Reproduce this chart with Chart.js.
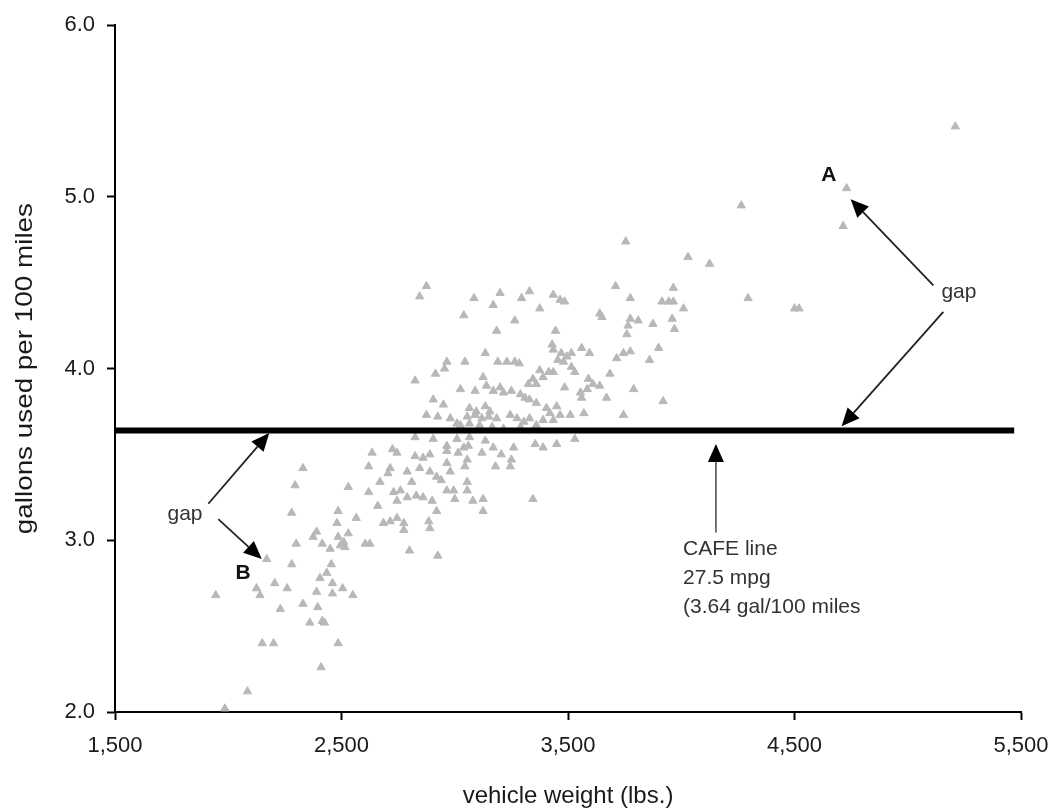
<!DOCTYPE html>
<html>
<head>
<meta charset="utf-8">
<script src="https://cdn.jsdelivr.net/npm/chart.js@4.4.1/dist/chart.umd.min.js"></script>
<style>
  html, body { margin: 0; padding: 0; background: #fff; }
  #wrap { width: 1050px; height: 810px; position: relative; }
</style>
</head>
<body>
<div id="wrap"><canvas id="chart"></canvas></div>
<script>
// vehicle weight (lbs.) vs gallons used per 100 miles
const vehicles = [
  // light cars, lower left
  [2295,3.32],[2280,3.16],[2300,2.98],[2170,2.89],[2280,2.86],[2435,2.81],[2405,2.78],[2460,2.75],
  [2205,2.75],[2125,2.72],[2140,2.68],[2260,2.72],[2390,2.70],[2505,2.72],[2550,2.68],[2460,2.69],
  [1945,2.68],[2330,2.63],[2395,2.61],[2230,2.60],[2360,2.52],[2415,2.53],[2425,2.52],[2150,2.40],
  [2200,2.40],[2485,2.40],[2410,2.26],[2085,2.12],[1985,2.02],
  // below the CAFE line, 2,300 - 2,950 lbs
  [2825,3.60],[2905,3.59],[2725,3.53],[2745,3.51],[2635,3.51],[2825,3.49],[2860,3.48],[2890,3.50],
  [2330,3.42],[2620,3.43],[2715,3.42],[2705,3.39],[2790,3.40],[2845,3.42],[2890,3.40],[2920,3.37],
  [2670,3.34],[2810,3.34],[2530,3.31],[2620,3.28],[2730,3.28],[2760,3.29],[2790,3.25],[2830,3.26],
  [2860,3.25],[2900,3.23],[2660,3.20],[2745,3.23],[2920,3.17],[2485,3.17],[2565,3.13],[2480,3.10],
  [2685,3.10],[2715,3.11],[2745,3.13],[2775,3.10],[2775,3.06],[2885,3.11],[2890,3.07],[2390,3.05],
  [2375,3.02],[2485,3.02],[2530,3.04],[2495,2.97],[2515,2.96],[2510,2.99],[2605,2.98],[2625,2.98],
  [2415,2.98],[2450,2.95],[2800,2.94],[2925,2.91],[2455,2.86],
  // below the CAFE line, 2,950 - 3,550 lbs
  [2965,3.55],[2965,3.52],[3015,3.51],[3040,3.54],[3060,3.55],[3120,3.51],[3170,3.54],[3205,3.50],
  [3260,3.54],[3355,3.56],[3390,3.54],[3450,3.56],[3530,3.59],[2965,3.45],[2980,3.40],[3055,3.47],
  [3045,3.43],[3180,3.43],[3250,3.47],[3245,3.43],[2940,3.35],[3055,3.34],[3055,3.29],[2965,3.29],
  [2995,3.29],[3000,3.24],[3080,3.23],[3125,3.24],[3125,3.17],[3345,3.24],[3010,3.59],[3065,3.60],
  [3135,3.58],
  // above the CAFE line, up to 3,200 lbs
  [2875,4.48],[2845,4.42],[3085,4.41],[3200,4.44],[3170,4.37],[3040,4.31],[3185,4.22],[3135,4.09],
  [2965,4.04],[2955,4.00],[2915,3.97],[3045,4.04],[3190,4.04],[2825,3.93],[3125,3.95],[3025,3.88],
  [3090,3.87],[3140,3.90],[3170,3.87],[3200,3.89],[2905,3.82],[2950,3.79],[3065,3.77],[3095,3.75],
  [3135,3.78],[3155,3.75],[2875,3.73],[2925,3.72],[2980,3.71],[3010,3.68],[3055,3.72],[3090,3.73],
  [3120,3.71],[3150,3.72],[3185,3.71],[3025,3.67],[3065,3.68],[3110,3.67],[3165,3.66],
  // above the CAFE line, 3,200 - 3,770 lbs
  [3330,4.45],[3295,4.41],[3435,4.43],[3465,4.40],[3485,4.39],[3375,4.35],[3710,4.48],[3640,4.32],
  [3650,4.30],[3265,4.28],[3445,4.22],[3765,4.25],[3430,4.14],[3435,4.11],[3560,4.12],[3595,4.09],
  [3470,4.09],[3495,4.07],[3515,4.09],[3455,4.05],[3480,4.04],[3230,4.04],[3265,4.04],[3285,4.03],
  [3515,4.01],[3530,3.98],[3715,4.06],[3745,4.09],[3435,3.98],[3415,3.98],[3390,3.95],[3345,3.94],
  [3325,3.91],[3360,3.91],[3590,3.94],[3610,3.91],[3640,3.90],[3685,3.97],[3485,3.89],[3555,3.86],
  [3585,3.88],[3560,3.83],[3670,3.83],[3250,3.87],[3215,3.86],[3290,3.85],[3310,3.83],[3330,3.82],
  [3360,3.80],[3405,3.77],[3450,3.78],[3420,3.74],[3465,3.73],[3510,3.73],[3570,3.74],[3745,3.73],
  [3245,3.73],[3275,3.71],[3305,3.69],[3330,3.71],[3360,3.67],[3215,3.65],[3375,3.99],[3390,3.70],
  [3435,3.70],[3290,3.66],
  // heavier vehicles
  [3755,4.74],[4030,4.65],[4125,4.61],[3965,4.47],[3775,4.41],[3915,4.39],[3945,4.39],[3965,4.39],
  [4010,4.35],[3775,4.29],[3810,4.28],[3875,4.26],[3960,4.29],[3970,4.23],[3900,4.12],[3775,4.10],
  [3860,4.05],[3790,3.88],[3920,3.81],[3760,4.20],
  [5210,5.41],[4730,5.05],[4715,4.83],[4265,4.95],[4295,4.41],[4520,4.35],[4500,4.35]
];

const cafeGallons = 3.64;           // 27.5 mpg
const cafeSpan = [1500, 5470];      // lbs
const xTicks = [1500, 2500, 3500, 4500, 5500];
const yTicks = [2.0, 3.0, 4.0, 5.0, 6.0];
const yTitle = 'gallons used per 100 miles';

// annotation text and arrows, in data units
const notes = [
  { text: 'A', at: [4652, 5.128], bold: true },
  { text: 'B', at: [2066, 2.806], bold: true },
  { text: 'gap', at: [1809, 3.154] },
  { text: 'gap', at: [5226, 4.446] }
];
const cafeNote = { lines: ['CAFE line', '27.5 mpg', '(3.64 gal/100 miles'], at: [4008, 2.951] };
const arrows = [
  { from: [1912, 3.213], to: [2181, 3.625] },
  { from: [1956, 3.123], to: [2148, 2.891] },
  { from: [5113, 4.485], to: [4748, 4.987] },
  { from: [5157, 4.330], to: [4708, 3.664] },
  { from: [4153, 3.045], to: [4153, 3.561], color: '#666' }
];

const FONT = '"Liberation Sans", Arial, sans-serif';

function drawArrow(ctx, x1, y1, x2, y2, color) {
  const ang = Math.atan2(y2 - y1, x2 - x1);
  const len = 18, half = 8;
  const bx = x2 - Math.cos(ang) * len, by = y2 - Math.sin(ang) * len;
  ctx.strokeStyle = color || '#222';
  ctx.lineWidth = 1.8;
  ctx.beginPath();
  ctx.moveTo(x1, y1);
  ctx.lineTo(bx, by);
  ctx.stroke();
  ctx.fillStyle = '#000';
  ctx.beginPath();
  ctx.moveTo(x2, y2);
  ctx.lineTo(bx + Math.sin(ang) * half, by - Math.cos(ang) * half);
  ctx.lineTo(bx - Math.sin(ang) * half, by + Math.cos(ang) * half);
  ctx.closePath();
  ctx.fill();
}

const annotationPlugin = {
  id: 'annotations',
  afterDatasetsDraw(chart) {
    const { ctx, scales: { x, y }, chartArea } = chart;
    ctx.save();
    arrows.forEach(a => drawArrow(ctx,
      x.getPixelForValue(a.from[0]), y.getPixelForValue(a.from[1]),
      x.getPixelForValue(a.to[0]), y.getPixelForValue(a.to[1]), a.color));

    ctx.textAlign = 'center';
    ctx.textBaseline = 'middle';
    notes.forEach(n => {
      ctx.font = (n.bold ? 'bold 21px ' : '21px ') + FONT;
      ctx.fillStyle = n.bold ? '#111' : '#333';
      ctx.fillText(n.text, x.getPixelForValue(n.at[0]), y.getPixelForValue(n.at[1]));
    });

    ctx.textAlign = 'left';
    ctx.font = '21px ' + FONT;
    ctx.fillStyle = '#333';
    const cx = x.getPixelForValue(cafeNote.at[0]);
    const cy = y.getPixelForValue(cafeNote.at[1]);
    cafeNote.lines.forEach((t, i) => ctx.fillText(t, cx, cy + i * 29));

    // y axis title, stretched along its length like the scanned original
    ctx.translate(25, (chartArea.top + chartArea.bottom) / 2);
    ctx.rotate(-Math.PI / 2);
    ctx.scale(1.16, 1);
    ctx.textAlign = 'center';
    ctx.font = '24px ' + FONT;
    ctx.fillStyle = '#1a1a1a';
    ctx.fillText(yTitle, 0, 0);
    ctx.restore();
  }
};

new Chart(document.getElementById('chart'), {
  type: 'scatter',
  data: {
    datasets: [
      {
        type: 'line',
        label: 'CAFE line',
        data: cafeSpan.map(w => ({ x: w, y: cafeGallons })),
        borderColor: '#000',
        borderWidth: 6,
        pointRadius: 0
      },
      {
        label: 'vehicles',
        data: vehicles.map(v => ({ x: v[0], y: v[1] })),
        pointStyle: 'triangle',
        pointRadius: 4.8,
        backgroundColor: '#b8b8b8',
        borderColor: '#b8b8b8',
        borderWidth: 1
      }
    ]
  },
  options: {
    responsive: true,
    maintainAspectRatio: false,
    animation: false,
    layout: { padding: { left: 0, right: 29, top: 22, bottom: 0 } },
    plugins: {
      legend: { display: false },
      tooltip: { enabled: false }
    },
    scales: {
      x: {
        type: 'linear',
        min: 1500,
        max: 5500,
        afterBuildTicks: axis => { axis.ticks = xTicks.map(v => ({ value: v })); },
        afterFit: axis => { axis.height = 98; axis.paddingLeft = 0; axis.paddingRight = 0; },
        border: { display: true, color: '#000', width: 2 },
        grid: { drawOnChartArea: false, drawTicks: true, tickLength: 8, tickWidth: 2, tickColor: '#000' },
        ticks: {
          padding: 13,
          color: '#1a1a1a',
          font: { family: FONT, size: 22 },
          maxRotation: 0,
          callback: v => v.toLocaleString('en-US')
        },
        title: {
          display: true,
          text: 'vehicle weight (lbs.)',
          color: '#1a1a1a',
          font: { family: FONT, size: 24, lineHeight: 1 },
          padding: { top: 0, bottom: 2 }
        }
      },
      y: {
        type: 'linear',
        min: 2,
        max: 6,
        afterBuildTicks: axis => { axis.ticks = yTicks.map(v => ({ value: v })); },
        afterFit: axis => { axis.width = 115; },
        border: { display: true, color: '#000', width: 2 },
        grid: { drawOnChartArea: false, drawTicks: true, tickLength: 8, tickWidth: 2, tickColor: '#000' },
        ticks: {
          padding: 12,
          color: '#1a1a1a',
          font: { family: FONT, size: 22 },
          callback: v => Number(v).toFixed(1)
        }
      }
    }
  },
  plugins: [annotationPlugin]
});
</script>
</body>
</html>
